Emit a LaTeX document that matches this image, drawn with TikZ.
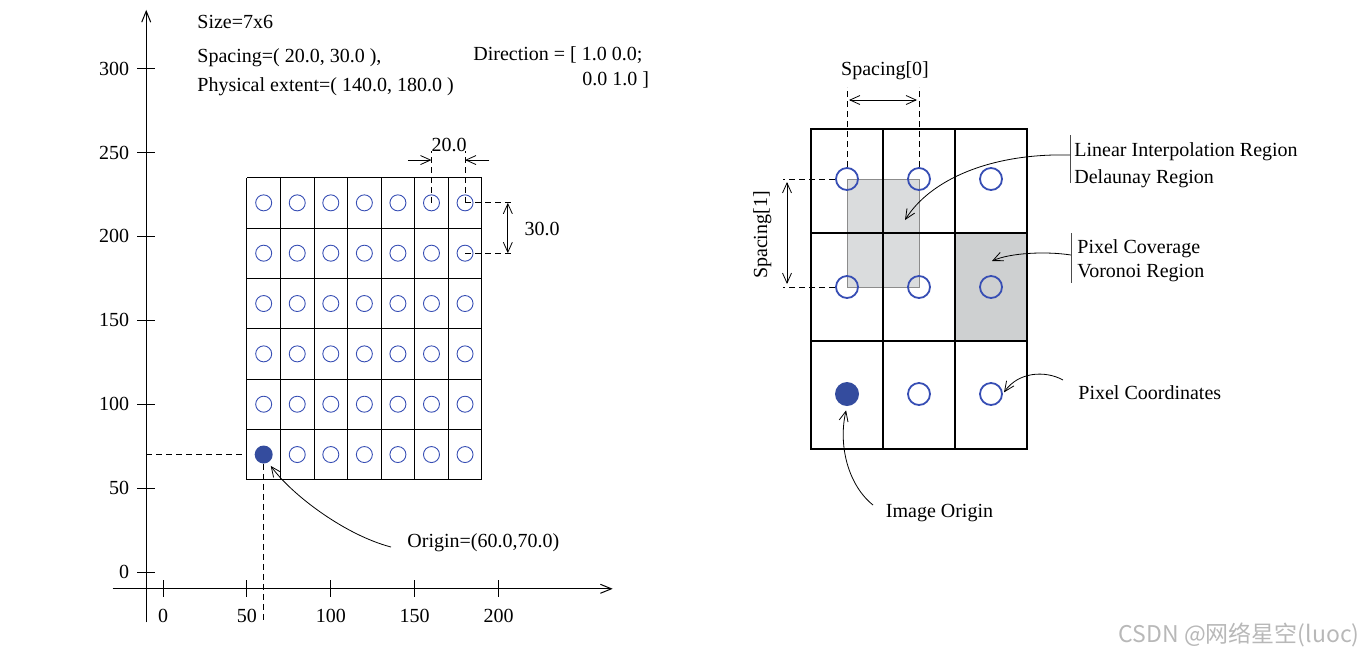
\documentclass[tikz,border=0pt]{standalone}
\usepackage{fontspec}
\setmainfont{Liberation Serif}
\newfontfamily\cjkfont{Noto Sans CJK SC}
\usetikzlibrary{arrows.meta}
\definecolor{pixblue}{RGB}{55,78,180}
\definecolor{orgblue}{RGB}{52,76,158}
\definecolor{delgray}{RGB}{218,220,221}
\definecolor{vorgray}{RGB}{206,208,209}

\begin{document}
\begin{tikzpicture}[x=0.5pt, y=-0.5pt,
    every node/.style={font=\fontsize{10}{12}\selectfont, inner sep=0pt},
    txt/.style={anchor=base west},
    pixL/.style={circle, draw=pixblue, line width=0.45pt, minimum size=8pt},
    orgL/.style={circle, fill=orgblue, minimum size=9pt},
    pixR/.style={circle, draw=pixblue, line width=0.9pt, minimum size=11pt},
    orgR/.style={circle, fill=orgblue, minimum size=12pt},
    axis/.style={line width=0.5pt, -{Straight Barb[length=5.5pt,width=4.5pt]}},
    arr/.style={line width=0.4pt, -{Straight Barb[length=5pt,width=4.5pt]}},
    dbl/.style={line width=0.4pt, {Straight Barb[length=5pt,width=4.5pt]}-{Straight Barb[length=5pt,width=4.5pt]}},
    dim/.style={line width=0.4pt, dash pattern=on 3pt off 2pt},
    bar/.style={line width=0.5pt, black!70}
  ]
  \useasboundingbox (0,0) rectangle (1370,655);

  % image information
  \node[txt] (size) at (197,28) {Size=7x6};
  \node[txt] (spc)  at (197,62) {Spacing=( 20.0, 30.0 ),};
  \node[txt] (ext)  at (197,91) {Physical extent=( 140.0, 180.0 )};
  \node[txt] (dir1) at (473,60) {Direction = [ 1.0 0.0;};
  \node[txt] (dir2) at (582,85) {0.0 1.0 ]};

  % physical space
  \begin{scope}[shift={(163,572)}, x=0.839pt, y=0.839pt]
    \draw[axis] (-10,-30) -- (-10,335);
    \draw[axis] (-30,-10) -- (268,-10);
    \foreach \t in {0,50,...,200} {
      \draw[line width=0.5pt] (\t,-5) -- (\t,-15);
      \node[anchor=base] (xl\t) at (\t,-30) {\t};
    }
    \foreach \t in {0,50,...,300} {
      \draw[line width=0.5pt] (-5,\t) -- (-15.5,\t);
      \node[anchor=east] (yl\t) at (-20,\t) {\t};
    }
    % pixel grid
    \foreach \i in {0,...,7}
      \draw[line width=0.5pt] (50+20*\i,55) -- (50+20*\i,235);
    \foreach \j in {0,...,6}
      \draw[line width=0.5pt] (50,55+30*\j) -- (190,55+30*\j);
    \coordinate (yfoot) at (-10,70);
    \coordinate (xfoot) at (60,-30);
    \draw[dim] (yfoot) -- (50,70);
    \foreach \i in {0,...,6}
      \foreach \j in {0,...,5} {
        \ifnum\i\j>0 \node[pixL] (p\i\j) at (60+20*\i,70+30*\j) {};\fi
      }
    \node[orgL] (p00) at (60,70) {};
    \draw[dim] (p00.south) -- (xfoot);
    % spacing
    \draw[dim] (p55.center) -- (160,251);
    \draw[dim] (p65.center) -- (180,251);
    \draw[dim] (p65.center) -- (208.5,220);
    \draw[dim] (p64.center) -- (208.5,190);
    \draw[arr] (146,245.5) -- (160,245.5);
    \draw[arr] (194.5,245.5) -- (180,245.5);
    \draw[dbl] (205.5,220) -- (205.5,190);
    \node (sx) at (170.5,254.5) {20.0};
    \node (sy) at (226,204.5) {30.0};
  \end{scope}

  \node[txt] (orglab) at (407,547) {Origin=(60.0,70.0)};
  \draw[arr, shorten >=2pt] ([xshift=-8pt]orglab.base west) .. controls (345,535) and (292,495) .. (p00.-60);

  % index space
  \foreach \i/\x in {0/847,1/919,2/991}
    \foreach \j/\y in {0/394,1/287,2/179}
      \coordinate (q\i\j) at (\x,\y);
  \fill[vorgray] (955,233) rectangle (1027,341);
  \filldraw[fill=delgray, draw=black!45, line width=0.5pt] (q01) rectangle (q12);
  \draw[line width=1pt] (811,129) rectangle (1027,449);
  \foreach \x in {883,955}
    \draw[line width=1pt] (\x,129) -- (\x,449);
  \foreach \y in {233,341}
    \draw[line width=1pt] (811,\y) -- (1027,\y);
  \foreach \i in {0,1,2}
    \foreach \j in {0,1,2} {
      \ifnum\i\j>0 \node[pixR] (r\i\j) at (q\i\j) {};\fi
    }
  \node[orgR] (r00) at (q00) {};

  \node[anchor=base] (sp0) at (885,75) {Spacing[0]};
  \draw[dim] (r02.north) -- ++(0,-80);
  \draw[dim] (r12.north) -- ++(0,-80);
  \draw[dbl] (849,100) -- (917,100);

  \node[anchor=base, rotate=90] (sp1) at (767,235) {Spacing[1]};
  \draw[dim] (r02.west) -- (783,179);
  \draw[dim] (r01.west) -- (783,287);
  \draw[dbl] (787,182) -- (787,284);

  % labels
  \coordinate (bar1) at (1070,155);
  \draw[bar] (1070,135) -- (1070,183);
  \node[txt] (lin)  at (1074,156) {Linear Interpolation Region};
  \node[txt] (dela) at (1074,183) {Delaunay Region};
  \draw[arr] (bar1) .. controls (990,153) and (930,180) .. (905,220);

  \coordinate (bar2) at (1071,255);
  \draw[bar] (1071,233) -- (1071,283);
  \node[txt] (cov) at (1077,253) {Pixel Coverage};
  \node[txt] (vor) at (1077,277) {Voronoi Region};
  \draw[arr] (bar2) .. controls (1045,251) and (1010,253) .. (992,261);

  \node[txt] (pco) at (1078,399) {Pixel Coordinates};
  \draw[arr, shorten >=1pt] (1063,380) .. controls (1045,370) and (1018,372) .. (r20.east);

  \node[anchor=base] (imo) at (939.5,517) {Image Origin};
  \draw[arr, shorten >=2pt] (873,505) .. controls (848,485) and (838,445) .. (r00.south);

  \node[anchor=base east, text=black!28, font=\cjkfont\fontsize{11.5}{13}\selectfont] (wm) at (1360,642) {CSDN @网络星空(luoc)};
\end{tikzpicture}
\end{document}
